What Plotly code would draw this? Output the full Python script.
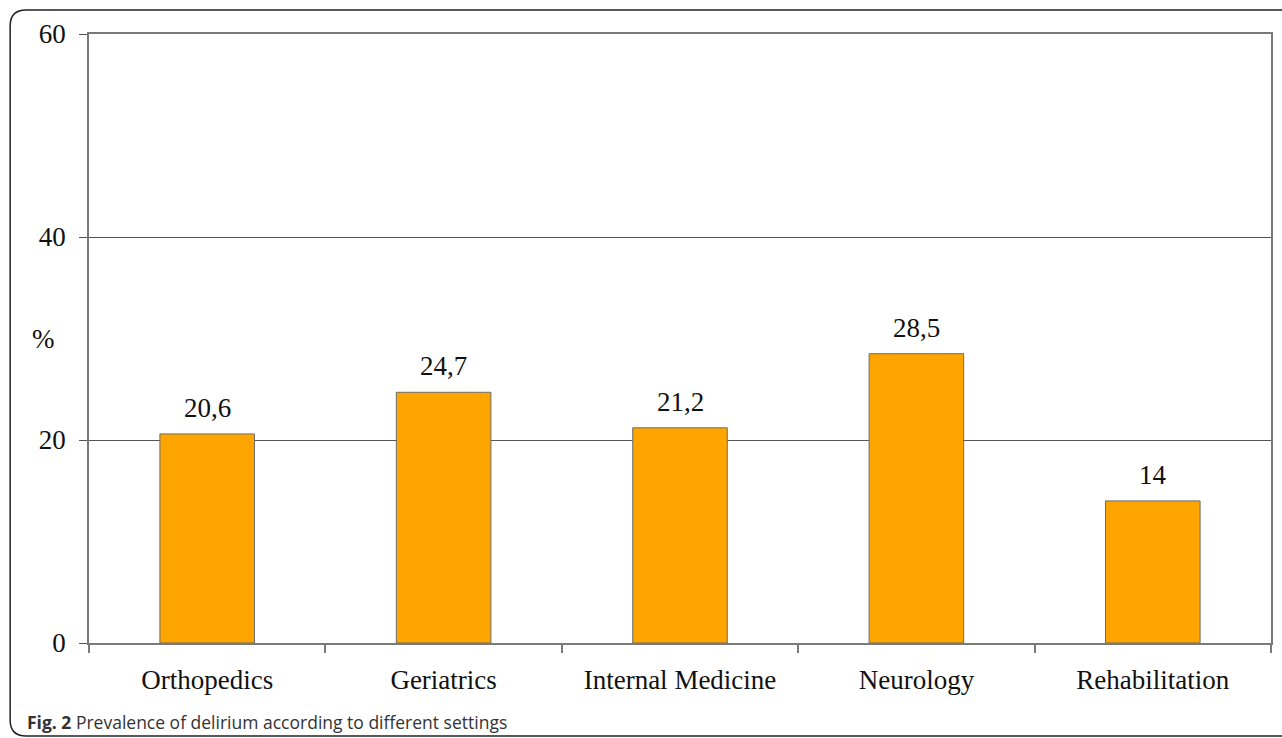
import plotly.graph_objects as go

categories = ["Orthopedics", "Geriatrics", "Internal Medicine", "Neurology", "Rehabilitation"]
values = [20.6, 24.7, 21.2, 28.5, 14]
value_labels = ["20,6", "24,7", "21,2", "28,5", "14"]
y_ticks = [0, 20, 40, 60]

W, H = 1282, 738
ML, MR, MT, MB = 89, 9, 34, 95
PW, PH = W - ML - MR, H - MT - MB

def px_x(x):
    return (x - ML) / PW

def px_y(y):
    return 1 - (y - MT) / PH

serif = "Liberation Serif, Times New Roman, serif"
FS = 27

fig = go.Figure()
fig.add_trace(go.Bar(
    x=categories, y=values,
    width=0.4,
    marker=dict(color="#FFA500", line=dict(color="#6b6b6b", width=1)),
    hoverinfo="skip",
))

for cat, val, lab in zip(categories, values, value_labels):
    fig.add_annotation(x=cat, y=val, text=lab, showarrow=False,
                       xanchor="center", yanchor="bottom", yshift=9,
                       font=dict(family=serif, size=FS, color="#111"))

# rounded outer border
x0, x1 = px_x(10), px_x(1300)
y0, y1 = px_y(736), px_y(10)
r = 16
rx, ry = r / PW, r / PH
path = (f"M {x0+rx},{y1} L {x1},{y1} M {x0+rx},{y1} Q {x0},{y1} {x0},{y1-ry} "
        f"L {x0},{y0+ry} Q {x0},{y0} {x0+rx},{y0} L {x1},{y0}")
fig.add_shape(type="path", path=path, xref="paper", yref="paper",
              line=dict(color="#222", width=1.5), layer="above")

fig.add_annotation(x=px_x(43), y=30, xref="paper", yref="y", text="%",
                   showarrow=False, font=dict(family=serif, size=FS, color="#111"),
                   xanchor="center", yanchor="middle")

fig.add_annotation(x=px_x(25), y=px_y(722), xref="paper", yref="paper",
                   text="<b>Fig. 2</b> Prevalence of delirium according to different settings",
                   showarrow=False, xanchor="left", yanchor="middle",
                   font=dict(family="Open Sans, Noto Sans, sans-serif", size=17.5, color="#333"))

fig.update_layout(
    width=W, height=H,
    margin=dict(l=ML, r=MR, t=MT, b=MB),
    paper_bgcolor="white", plot_bgcolor="white",
    showlegend=False,
)
fig.update_xaxes(
    showline=True, linecolor="#7a7a7a", linewidth=1.5, mirror=True,
    ticks="outside", tickson="boundaries", ticklen=8, tickcolor="#7a7a7a", tickwidth=1.5,
    tickfont=dict(family=serif, size=FS, color="#111"),
    ticklabelstandoff=12,
    showgrid=False,
)
fig.update_yaxes(
    range=[0, 60], tickvals=y_ticks,
    showline=True, linecolor="#7a7a7a", linewidth=1.5, mirror=True,
    ticks="outside", ticklen=8, tickcolor="#555", tickwidth=1,
    showgrid=True, gridcolor="#555", gridwidth=1,
    tickfont=dict(family=serif, size=FS, color="#111"),
    ticklabelstandoff=8,
    zeroline=False,
)

fig.write_html("out.html", config={"displayModeBar": False},
               post_script="document.body.style.margin='0';document.body.style.overflow='hidden';")
